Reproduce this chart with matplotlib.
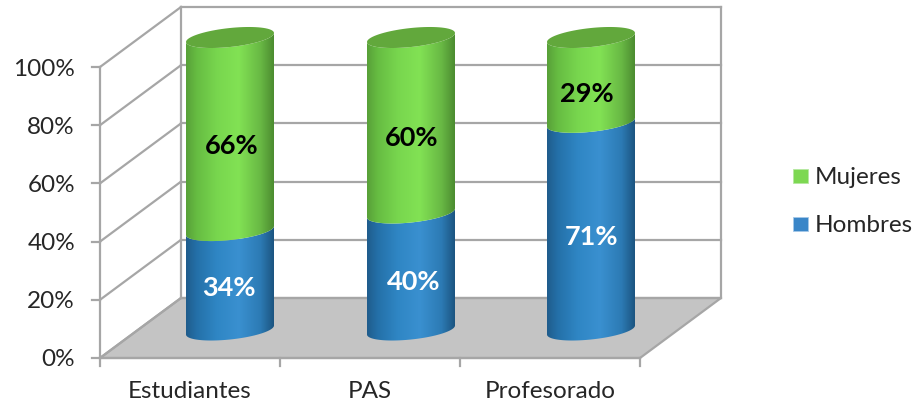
import numpy as np
import matplotlib
matplotlib.use("Agg")
import matplotlib.pyplot as plt
from matplotlib.colors import LinearSegmentedColormap
from matplotlib.patches import Polygon, Rectangle

plt.rcParams['font.family'] = ['Lato', 'DejaVu Sans']

# datos
categorias = ["Estudiantes", "PAS", "Profesorado"]
hombres = [34, 40, 71]
mujeres = [66, 60, 29]
ticks = [0, 20, 40, 60, 80, 100]

# geometria de la caja (en pixeles de la imagen)
X0, X1 = 100, 640
DX, DY = 81, -60
Y_0, Y_100 = 358, 67
GRIS = "#A6A6A6"
LW = 1.6

# cilindros
CENTROS = [230, 411, 591]
RADIO = 44
Y_BASE, Y_TOPE = 330, 37.5
B, S = 9.5, 4.5

fig = plt.figure(figsize=(9.15, 4.04), dpi=100)
ax = fig.add_axes([0, 0, 1, 1])
ax.set_xlim(0, 915)
ax.set_ylim(404, 0)
ax.axis("off")


def y_front(v):
    return Y_0 + (Y_100 - Y_0) * v / 100


def y_cil(v):
    return Y_BASE + (Y_TOPE - Y_BASE) * v / 100


def arco(cx, cy, desde, hasta):
    t = np.linspace(desde, hasta, 80)
    return np.column_stack([cx + RADIO * np.cos(t), cy + B * np.sin(t) - S * np.cos(t)])


def tramo(cx, v0, v1, cmap):
    # arco inferior en v0 y vuelta por el arco inferior en v1
    abajo = arco(cx, y_cil(v0), np.pi, 0)
    arriba = arco(cx, y_cil(v1), 0, np.pi)
    pol = Polygon(np.vstack([abajo, arriba]), closed=True, fc="none", ec="none", zorder=4)
    ax.add_patch(pol)
    grad = np.linspace(0, 1, 256).reshape(1, -1)
    im = ax.imshow(grad, cmap=cmap, aspect="auto", zorder=4,
                   extent=(cx - RADIO, cx + RADIO, y_cil(v0) + 15, y_cil(v1) - 15))
    im.set_clip_path(pol)


cmap_azul = LinearSegmentedColormap.from_list("azul", [
    (0, "#1F5C8C"), (0.12, "#2470A8"), (0.35, "#2F86C4"), (0.6, "#3A90D0"),
    (0.85, "#2C7AB4"), (1, "#1C5580")])
cmap_verde = LinearSegmentedColormap.from_list("verde", [
    (0, "#58A038"), (0.12, "#66BC42"), (0.35, "#78D64E"), (0.6, "#82E254"),
    (0.85, "#68B844"), (1, "#4C8C30")])

# suelo y paredes
ax.add_patch(Polygon([(X0, Y_0), (X1, Y_0), (X1 + DX, Y_0 + DY), (X0 + DX, Y_0 + DY)],
                     closed=True, fc="#C4C4C4", ec=GRIS, lw=LW, zorder=1))
for v in ticks:
    y = y_front(v)
    ax.plot([X0, X0 + DX], [y, y + DY], color=GRIS, lw=LW, zorder=2)
    ax.plot([X0 + DX, X1 + DX], [y + DY, y + DY], color=GRIS, lw=LW, zorder=2)
    ax.plot([X0 - 8, X0], [y, y], color=GRIS, lw=LW, zorder=2)
    ax.text(75, y + 2, f"{v}%", ha="right", va="center", fontsize=17.5, color="#262626")

ax.plot([X0, X0], [Y_0, Y_100], color=GRIS, lw=LW, zorder=2)
ax.plot([X0 + DX, X0 + DX], [Y_0 + DY, Y_100 + DY], color=GRIS, lw=LW, zorder=2)
ax.plot([X1 + DX, X1 + DX], [Y_0 + DY, Y_100 + DY], color=GRIS, lw=LW, zorder=2)
ax.plot([X0, X1], [Y_0, Y_0], color=GRIS, lw=LW, zorder=2)

paso = (X1 - X0) / len(categorias)
for i in range(len(categorias) + 1):
    xt = X0 + i * paso
    ax.plot([xt, xt], [Y_0, Y_0 + 8], color=GRIS, lw=LW, zorder=2)
for i, cat in enumerate(categorias):
    ax.text(X0 + (i + 0.5) * paso, 392, cat, ha="center", va="center",
            fontsize=17.5, color="#262626")

# barras cilindricas
pos_h = [288, 282, 237]
pos_m = [146, 138, 94]
off_h = [-1, 3, 1]
off_m = [2, 1, -4]
for i, cx in enumerate(CENTROS):
    h, m = hombres[i], mujeres[i]
    tramo(cx, 0, h, cmap_azul)
    tramo(cx, h, h + m, cmap_verde)
    tapa = arco(cx, y_cil(h + m), 0, 2 * np.pi)
    ax.add_patch(Polygon(tapa, closed=True, fc="#62A83C", ec="none", zorder=5))
    ax.text(cx + off_h[i], pos_h[i], f"{h}%", ha="center", va="center", color="white",
            fontsize=19.5, fontweight="bold", zorder=6)
    ax.text(cx + off_m[i], pos_m[i], f"{m}%", ha="center", va="center", color="black",
            fontsize=19.5, fontweight="bold", zorder=6)

# leyenda
ax.add_patch(Rectangle((793, 169), 15, 14, fc="#7DD852", ec="#B5E8A0", lw=0.6))
ax.add_patch(Rectangle((793, 217), 15, 14, fc="#3A86C8", ec="#A5C8E8", lw=0.6))
ax.text(815, 177, "Mujeres", ha="left", va="center", fontsize=17.5, color="#262626")
ax.text(815, 225, "Hombres", ha="left", va="center", fontsize=17.5, color="#262626")

ax.set_xlim(0, 915)
ax.set_ylim(404, 0)
fig.savefig("out.png", dpi=100)
